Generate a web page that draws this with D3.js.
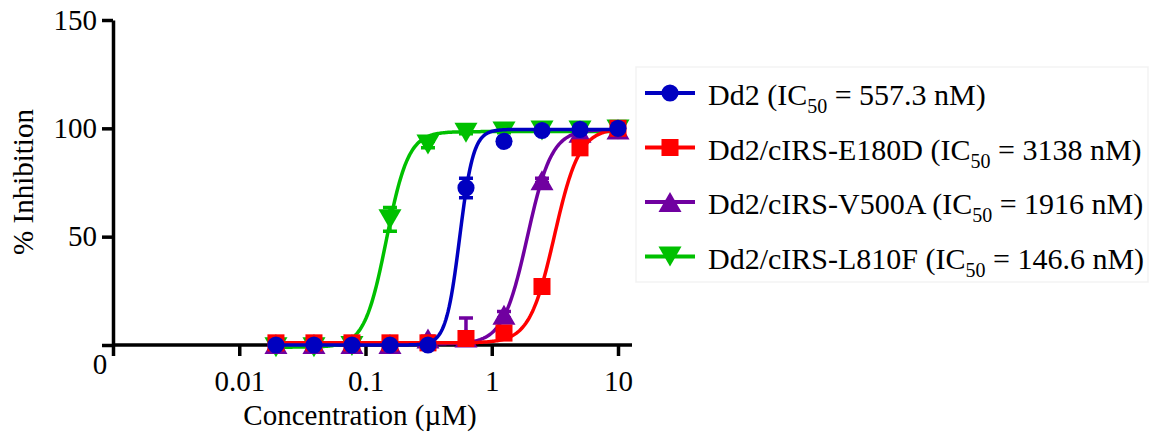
<!DOCTYPE html>
<html>
<head>
<meta charset="utf-8">
<script src="https://cdn.jsdelivr.net/npm/d3@7"></script>
<style>
  body { margin: 0; background: #fff; }
  svg text { font-family: "Liberation Serif", "Times New Roman", serif; fill: #000; }
</style>
</head>
<body>
<svg class="canvas" width="1158" height="438"></svg>
<script>
// concentrations (µM), 2-fold dilution series
const concentrations = [0.01953125, 0.0390625, 0.078125, 0.15625, 0.3125, 0.625, 1.25, 2.5, 5, 10];

const seriesNames = ["Dd2", "Dd2/cIRS-E180D", "Dd2/cIRS-V500A", "Dd2/cIRS-L810F"];
const ic50Labels = ["557.3 nM", "3138 nM", "1916 nM", "146.6 nM"];
const colors = ["#0000c0", "#ff0000", "#7000a0", "#00c000"];
const symbols = ["circle", "square", "triangleUp", "triangleDown"];

// % inhibition means
const dd2Values = [0, 0, 0, 0, 0, 72.5, 94, 99, 99.5, 100];
const e180dValues = [1, 1, 1, 1, 1, 3, 5.5, 27, 91, 100];
const v500aValues = [0.5, 0.5, 0.5, 0.5, 3, 3.5, 14, 76, 98, 99.5];
const l810fValues = [-1, -1, -0.5, 58, 92.5, 98, 98.5, 99, 99, 99.5];

// error bars (SD)
const dd2Errors = [0, 0, 0, 0, 0, 4.5, 1, 0.5, 0.5, 0];
const e180dErrors = [0, 0, 0, 0, 0, 1, 1, 1, 1, 0];
const v500aErrors = [0, 0, 0, 0, 1, 9, 1.5, 1, 0.5, 0];
const l810fErrors = [0, 0, 0, 5.5, 1.5, 0.5, 0.5, 0.5, 0.5, 0];

// dose-response fit parameters (IC50 in µM)
const fitIC50 = [0.5573, 3.138, 1.916, 0.1466];
const fitHill = [8, 4.4, 4.5, 5];
const fitTop = [99.5, 100, 99.5, 98.5];
const fitBottom = [0, 1, 0.5, -1];

const yTicks = [0, 50, 100, 150];
const xTicks = [0.001, 0.01, 0.1, 1, 10];
const xTickLabels = ["", "0.01", "0.1", "1", "10"];

const allValues = [dd2Values, e180dValues, v500aValues, l810fValues];
const allErrors = [dd2Errors, e180dErrors, v500aErrors, l810fErrors];

const svg = d3.select(".canvas");

const x = d3.scaleLog().domain([0.001, 10]).range([113, 618]);
const y = d3.scaleLinear().domain([0, 150]).range([345, 20]);

const fontSize = 29;

// error bars are clipped at the x axis
svg.append("defs").append("clipPath")
  .attr("id", "errClip")
  .append("rect")
  .attr("x", 0).attr("y", 0)
  .attr("width", 1158).attr("height", y(0));

// axes
const xAxis = d3.axisBottom(x)
  .tickValues(xTicks)
  .tickFormat((d, i) => xTickLabels[i])
  .tickSize(11)
  .tickPadding(14)
  .tickSizeOuter(0);

const yAxis = d3.axisLeft(y)
  .tickValues(yTicks)
  .tickFormat((d) => (d === 0 ? "" : d))
  .tickSize(11)
  .tickPadding(5)
  .tickSizeOuter(0);

const xAxisGroup = svg.append("g")
  .attr("transform", `translate(0,${y(0)})`)
  .call(xAxis);
xAxisGroup.select(".domain").attr("d", `M${x(0.001)},0H632`);

const yAxisGroup = svg.append("g")
  .attr("transform", `translate(${x(0.001)},0)`)
  .call(yAxis);

[xAxisGroup, yAxisGroup].forEach((g) => {
  g.select(".domain").attr("stroke", "#000").attr("stroke-width", 3.5);
  g.selectAll(".tick line").attr("stroke", "#000").attr("stroke-width", 3.5);
  g.selectAll("text")
    .style("font-family", '"Liberation Serif", serif')
    .style("font-size", fontSize + "px")
    .attr("fill", "#000");
});

// corner "0" label
svg.append("text")
  .attr("x", 100)
  .attr("y", y(0) + 29)
  .attr("text-anchor", "middle")
  .style("font-size", fontSize + "px")
  .text("0");

// axis titles
svg.append("text")
  .attr("x", 360)
  .attr("y", 425)
  .attr("text-anchor", "middle")
  .style("font-size", fontSize + "px")
  .text("Concentration (µM)");

svg.append("text")
  .attr("transform", `translate(33,${182}) rotate(-90)`)
  .attr("text-anchor", "middle")
  .style("font-size", fontSize + "px")
  .text("% Inhibition");

const symbolSize = { circle: 230, square: 290, triangleUp: 230, triangleDown: 230 };

function marker(g, kind, color, cx, cy) {
  const size = symbolSize[kind];
  let type = d3.symbolCircle;
  if (kind === "square") type = d3.symbolSquare;
  if (kind === "triangleUp" || kind === "triangleDown") type = d3.symbolTriangle;
  // centre triangles on their bounding box
  let shift = 0;
  if (type === d3.symbolTriangle) shift = Math.sqrt(size / (3 * Math.sqrt(3))) / 2;
  const rot = kind === "triangleDown" ? " rotate(180)" : "";
  g.append("path")
    .attr("d", d3.symbol(type, size)())
    .attr("transform", `translate(${cx},${cy})${rot} translate(0,${shift})`)
    .attr("fill", color);
}

// draw series, last legend entry first so Dd2 ends up on top
const plot = svg.append("g");
const lo = Math.log10(concentrations[0]);
const hi = Math.log10(concentrations[concentrations.length - 1]);
const curveXs = d3.range(0, 301).map((i) => Math.pow(10, lo + (hi - lo) * i / 300));

const line = d3.line().x((d) => x(d[0])).y((d) => y(d[1]));

[3, 2, 1, 0].forEach((s) => {
  const g = plot.append("g");
  const fit = curveXs.map((c) => [
    c,
    fitBottom[s] + (fitTop[s] - fitBottom[s]) / (1 + Math.pow(fitIC50[s] / c, fitHill[s])),
  ]);
  g.append("path")
    .datum(fit)
    .attr("d", line)
    .attr("fill", "none")
    .attr("stroke", colors[s])
    .attr("stroke-width", 3.5);

  concentrations.forEach((c, i) => {
    const v = allValues[s][i];
    const e = allErrors[s][i];
    if (e > 0) {
      const cx = x(c);
      g.append("path")
        .attr("d", `M${cx},${y(v - e)}V${y(v + e)}M${cx - 7},${y(v - e)}h14M${cx - 7},${y(v + e)}h14`)
        .attr("clip-path", "url(#errClip)")
        .attr("stroke", colors[s])
        .attr("stroke-width", 3.5)
        .attr("fill", "none");
    }
    marker(g, symbols[s], colors[s], x(c), y(v));
  });
});

// legend
const legend = svg.append("g");
legend.append("rect")
  .attr("x", 636).attr("y", 67)
  .attr("width", 512).attr("height", 215)
  .attr("fill", "none")
  .attr("stroke", "#f3f3f3")
  .attr("stroke-width", 1.5);

seriesNames.forEach((name, i) => {
  const ly = 93 + i * 54.5;
  legend.append("line")
    .attr("x1", 645).attr("x2", 695)
    .attr("y1", ly).attr("y2", ly)
    .attr("stroke", colors[i])
    .attr("stroke-width", 4);
  marker(legend, symbols[i], colors[i], 670, ly);

  const t = legend.append("text")
    .attr("x", 708)
    .attr("y", ly + 12)
    .style("font-size", "30px");
  t.append("tspan").text(`${name} (IC`);
  t.append("tspan").attr("dy", 8).style("font-size", "20px").text("50");
  t.append("tspan").attr("dy", -8).text(` = ${ic50Labels[i]})`);
});
</script>
</body>
</html>
